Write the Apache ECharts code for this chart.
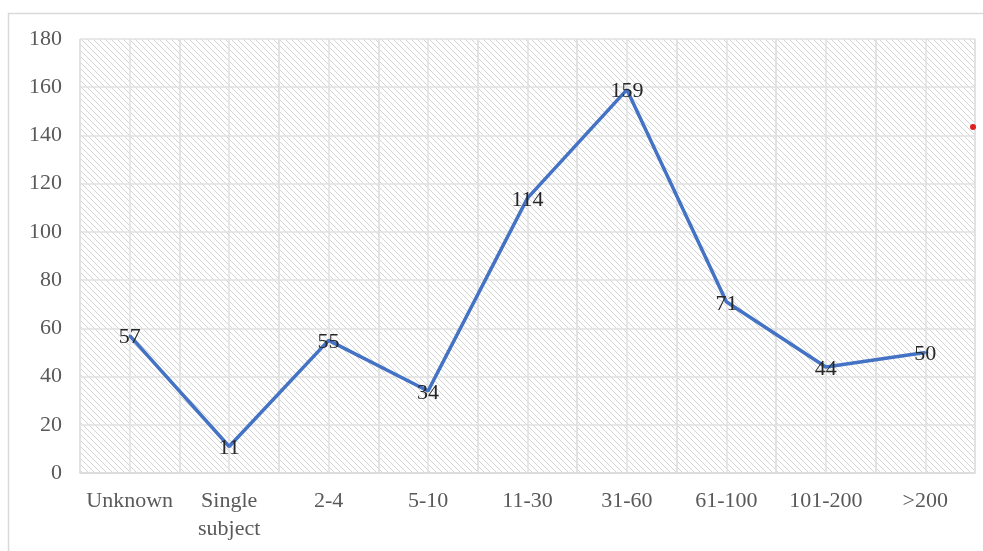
<!DOCTYPE html>
<html>
<head>
<meta charset="utf-8">
<script src="https://cdn.jsdelivr.net/npm/echarts@6/dist/echarts.min.js"></script>
<style>
html,body{margin:0;padding:0;background:#fff;}
#c{width:983px;height:551px;}
</style>
</head>
<body>
<div id="c"></div>
<script>
const categories = ['Unknown', 'Single\nsubject', '2-4', '5-10', '11-30', '31-60', '61-100', '101-200', '>200'];
const counts = [57, 11, 55, 34, 114, 159, 71, 44, 50];
const yTicks = {min: 0, max: 180, interval: 20};

function hatch() {
  const s = 6;
  const cv = document.createElement('canvas');
  cv.width = s; cv.height = s;
  const g = cv.getContext('2d');
  g.fillStyle = '#ffffff';
  g.fillRect(0, 0, s, s);
  g.strokeStyle = '#d4d4d4';
  g.lineWidth = 1;
  g.beginPath();
  g.moveTo(-1, -1); g.lineTo(s + 1, s + 1);
  g.moveTo(-1, s - 1); g.lineTo(1, s + 1);
  g.moveTo(s - 1, -1); g.lineTo(s + 1, 1);
  g.stroke();
  return cv;
}

const chart = echarts.init(document.getElementById('c'), null, {renderer: 'canvas'});
const font = '"Liberation Serif", "Times New Roman", serif';
chart.setOption({
  animation: false,
  backgroundColor: '#ffffff',
  textStyle: {fontFamily: font},
  graphic: [
    {type: 'rect', shape: {x: 8.5, y: 13.5, width: 1000, height: 560}, style: {fill: 'none', stroke: '#d9d9d9', lineWidth: 1.5}, silent: true, z: -10},
    {type: 'circle', shape: {cx: 973, cy: 127, r: 3}, style: {fill: '#e02020'}, silent: true, z: 100}
  ],
  grid: {
    left: 80, right: 8, top: 39, bottom: 78,
    show: true,
    backgroundColor: {image: hatch(), repeat: 'repeat'},
    borderWidth: 0
  },
  xAxis: [
    {
      type: 'category',
      data: categories,
      boundaryGap: true,
      axisLine: {show: true, lineStyle: {color: '#d9d9d9', width: 1.5}},
      axisTick: {show: false},
      splitLine: {show: true, lineStyle: {color: '#e0e0e0', width: 1.5}},
      axisLabel: {color: '#595959', fontSize: 22, fontFamily: font, margin: 14, lineHeight: 28, interval: 0}
    },
    {
      type: 'value',
      min: 0, max: 18, interval: 1,
      show: true,
      position: 'top',
      axisLine: {show: false},
      axisTick: {show: false},
      axisLabel: {show: false},
      splitLine: {show: true, lineStyle: {color: '#e0e0e0', width: 1.5}}
    }
  ],
  yAxis: {
    type: 'value',
    min: yTicks.min, max: yTicks.max, interval: yTicks.interval,
    axisLine: {show: false},
    axisTick: {show: false},
    splitLine: {show: true, lineStyle: {color: '#e0e0e0', width: 1.5}},
    axisLabel: {color: '#595959', fontSize: 22, fontFamily: font, margin: 18}
  },
  series: [{
    type: 'line',
    data: counts,
    xAxisIndex: 0,
    showSymbol: true,
    symbol: 'circle',
    symbolSize: 2,
    lineStyle: {color: '#4472C4', width: 3.5},
    itemStyle: {color: '#4472C4'},
    label: {
      show: true,
      position: 'inside',
      offset: [0, 2],
      color: '#262626',
      fontSize: 22,
      fontFamily: font
    },
    z: 5
  }]
});
</script>
</body>
</html>
